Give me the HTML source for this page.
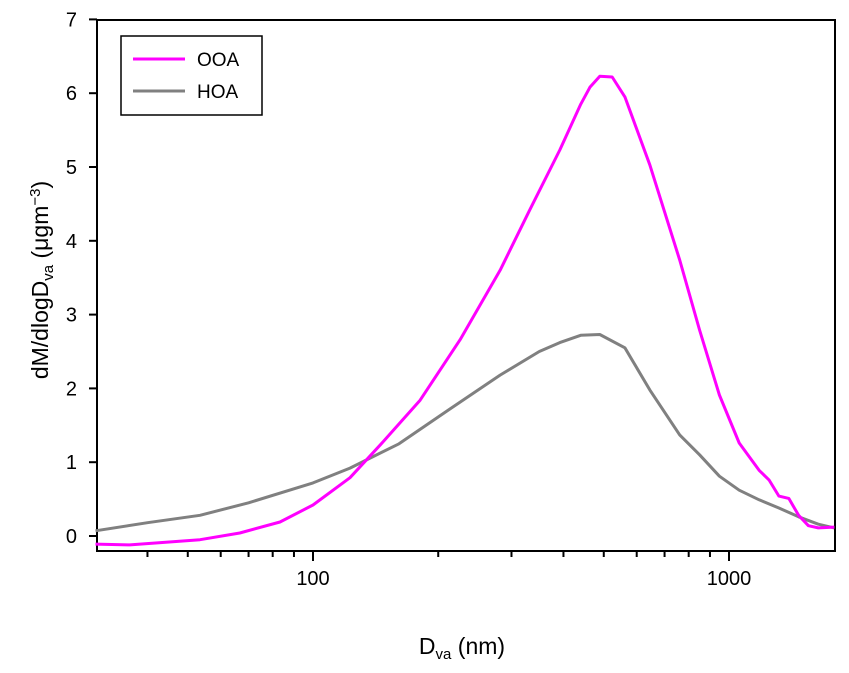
<!DOCTYPE html>
<html><head><meta charset="utf-8"><style>
body{margin:0;background:#fff;}
svg{display:block;font-family:"Liberation Sans",Arial,sans-serif;}
</style></head><body>
<svg id="chart" width="849" height="673"></svg>
<script>
const ooaD=[30,36.3,53.5,66.7,83.3,100,122.7,144.9,180.9,225.8,281.7,332,392,440,463,489,524,562,645,761,850,948,1058,1181,1248,1318,1392,1470,1552,1639,1791];
const ooaV=[-0.11,-0.12,-0.05,0.04,0.19,0.42,0.79,1.23,1.84,2.66,3.60,4.42,5.23,5.85,6.08,6.23,6.22,5.95,5.03,3.74,2.79,1.91,1.26,0.89,0.76,0.54,0.51,0.28,0.14,0.11,0.12];
const hoaD=[30,40,53.5,70,100,122.7,161,212,281.7,350,392,440,489,562,645,761,850,948,1058,1181,1318,1470,1639,1791];
const hoaV=[0.07,0.18,0.28,0.45,0.72,0.92,1.25,1.71,2.18,2.50,2.62,2.72,2.73,2.55,1.98,1.37,1.10,0.81,0.62,0.49,0.38,0.26,0.16,0.11];
const yTicks=[0,1,2,3,4,5,6,7];
const xMajor=[100,1000];
const xMinor=[40,50,60,70,80,90,200,300,400,500,600,700,800,900];
const L=97,R=835,T=20,B=551;
const xs=d=>313+(Math.log10(d)-2)*416;
const ys=v=>536-v*73.8;
const svg=document.getElementById('chart');
const NS='http://www.w3.org/2000/svg';
function mk(tag,attrs,parent){const e=document.createElementNS(NS,tag);for(const k in attrs)e.setAttribute(k,attrs[k]);(parent||svg).appendChild(e);return e;}
const frame=mk('rect',{x:L,y:T,width:R-L,height:B-T,fill:'none',stroke:'#000','stroke-width':2});


yTicks.forEach(v=>{
 const t=mk('line',{x1:L-8,x2:L,y1:ys(v),y2:ys(v),stroke:'#000','stroke-width':2});
 
 
 const tx=mk('text',{x:L-20,y:ys(v)+7,'font-size':20,'text-anchor':'end'});tx.textContent=v;
 
 
});
xMajor.forEach(d=>{
 const t=mk('line',{x1:xs(d),x2:xs(d),y1:B,y2:B+10,stroke:'#000','stroke-width':2});
 
 
 const tx=mk('text',{x:xs(d),y:B+34,'font-size':20,'text-anchor':'middle'});tx.textContent=d;
 
 
});
xMinor.forEach(d=>{
 const t=mk('line',{x1:xs(d),x2:xs(d),y1:B,y2:B+6,stroke:'#000','stroke-width':2});
 
 
});
function series(D,V,color,name){
 const p=mk('polyline',{points:D.map((d,i)=>xs(d).toFixed(1)+','+ys(V[i]).toFixed(1)).join(' '),fill:'none',stroke:color,'stroke-width':3,'stroke-linejoin':'round'});
 
 
}
series(hoaD,hoaV,'#808080','hoa-line');
series(ooaD,ooaV,'#ff00ff','ooa-line');
</script>
<svg style="position:absolute;left:0;top:0" width="849" height="673">
<g>
<rect x="121" y="36" width="141" height="79" fill="#fff" stroke="#000" stroke-width="1.5"/>
<line x1="133" y1="59" x2="185" y2="59" stroke="#ff00ff" stroke-width="3"/>
<text x="197" y="66" font-size="19" font-family="Liberation Sans, sans-serif">OOA</text>
<line x1="133" y1="91" x2="185" y2="91" stroke="#808080" stroke-width="3"/>
<text x="197" y="98" font-size="19" font-family="Liberation Sans, sans-serif">HOA</text>
</g>
<text x="462" y="654" font-size="23" text-anchor="middle" font-family="Liberation Sans, sans-serif">D<tspan font-size="15" dy="5">va</tspan><tspan dy="-5"> (nm)</tspan></text>
<text transform="translate(48,280) rotate(-90)" font-size="23" text-anchor="middle" font-family="Liberation Sans, sans-serif">dM/dlogD<tspan font-size="15" dy="5">va</tspan><tspan dy="-5">  (μgm</tspan><tspan font-size="15" dy="-8">−3</tspan><tspan dy="8">)</tspan></text>
</svg>
</body></html>
